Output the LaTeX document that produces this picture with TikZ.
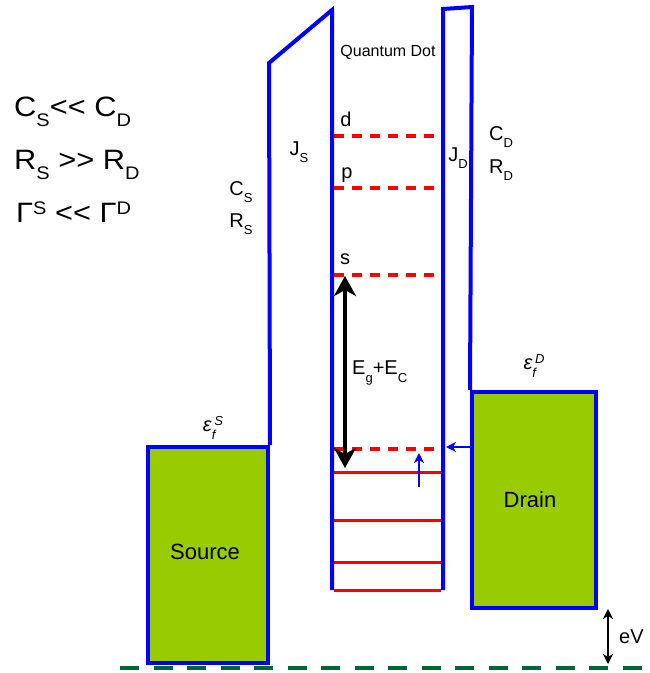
\documentclass[tikz,border=0pt]{standalone}
\usepackage{fontspec}
\usepackage{graphicx}
\setmainfont{Liberation Sans}
\usetikzlibrary{arrows.meta}
\definecolor{wallblue}{RGB}{0,0,255}
\definecolor{lvlred}{RGB}{255,0,0}
\definecolor{metal}{RGB}{153,204,0}
\definecolor{gnd}{RGB}{0,102,51}
\newcommand\lsub[1]{\raisebox{-0.36em}{\scalebox{0.65}{#1}}}
\newcommand\lsup[1]{\raisebox{0.3em}{\scalebox{0.65}{#1}}}
\newcommand\wide[1]{\scalebox{1.1}[1]{#1}}
\tikzset{
  wall/.style={draw=wallblue, line width=4pt, line join=miter},
  metalbox/.style={draw=wallblue, line width=4pt, fill=metal, rectangle, inner sep=0pt},
  emptylvl/.style={draw=lvlred, line width=4pt, dash pattern=on 10pt off 8pt},
  fulllvl/.style={draw=lvlred, line width=3pt},
  lbl/.style={inner sep=0pt, font=\fontsize{20}{24}\selectfont},
  biglbl/.style={inner sep=0pt, anchor=west, font=\fontsize{28}{32}\selectfont},
  gap/.style={draw=black, line width=4pt, {Stealth[length=20pt,width=22pt,inset=6pt]}-{Stealth[length=20pt,width=22pt,inset=6pt]}},
  tun/.style={draw=wallblue, line width=2pt, -{Stealth[length=10pt,width=10pt,inset=3pt]}},
  bias/.style={draw=black, line width=2pt, {Stealth[length=10pt,width=10pt,inset=3pt]}-{Stealth[length=10pt,width=10pt,inset=3pt]}},
}
\begin{document}
\begin{tikzpicture}[x=1pt,y=-1pt]
\useasboundingbox (0,0) rectangle (649,673);
% ground line
\coordinate (g1) at (120,668);
\coordinate (g2) at (645,668);
\draw[gnd, line width=4pt, dash pattern=on 19pt off 14.5pt] (g1) -- (g2);
% source and drain
\node[metalbox, minimum width=120pt, minimum height=216pt] (source) at (208,555) {};
\node[lbl, font=\fontsize{22}{26}\selectfont] (srclbl) at (205,552) {Source};
\node[metalbox, minimum width=124pt, minimum height=216pt] (drain) at (534,500) {};
\node[lbl, font=\fontsize{22}{26}\selectfont] (drnlbl) at (530,500) {Drain};
% barriers
\coordinate (ls1) at (269,63);
\coordinate (ls2) at (332,10);
\coordinate (ls3) at (332,590);
\coordinate (rs1) at (443,590);
\coordinate (rs2) at (443,9);
\coordinate (rs3) at (472,7);
\draw[wall] (source.north east) -- (ls1) -- (ls2) -- (ls3);
\draw[wall] (rs1) -- (rs2) -- (rs3) -- (drain.north west);
% levels
\foreach \y/\n in {136/d,188/p,275/s,449/h}{
  \coordinate (e\n a) at (334,\y);
  \coordinate (e\n b) at (440,\y);
  \draw[emptylvl] (e\n a) -- (e\n b);
}
\foreach \y/\n in {472/1,520/2,562/3,590/4}{
  \coordinate (f\n a) at (334,\y);
  \coordinate (f\n b) at (441,\y);
  \draw[fulllvl] (f\n a) -- (f\n b);
}
% gap arrow
\coordinate (gtop) at (345,276);
\coordinate (gbot) at (345,468);
\draw[gap] (gtop) -- (gbot);
% tunnelling arrows
\coordinate (u1) at (419,487);
\coordinate (u2) at (419,453);
\draw[tun] (u1) -- (u2);
\coordinate (l1) at (470,447);
\coordinate (l2) at (446,447);
\draw[tun] (l1) -- (l2);
% bias arrow
\coordinate (b1) at (608,609);
\coordinate (b2) at (608,664);
\draw[bias] (b1) -- (b2);
\node[lbl, anchor=west] (ev) at (619,637) {eV};
% labels
\node[inner sep=0pt, font=\fontsize{16}{19}\selectfont] (qd) at (388,52) {Quantum Dot};
\node[lbl] (dl) at (346,119) {d};
\node[lbl] (pl) at (347,175) {p};
\node[lbl] (sl) at (345,259) {s};
\node[lbl] (js) at (299,152) {J\lsub{S}};
\node[lbl] (jd) at (458,158) {J\lsub{D}};
\node[lbl] (cs) at (241,192) {C\lsub{S}};
\node[lbl] (rs) at (241,224) {R\lsub{S}};
\node[lbl] (cd) at (501,137) {C\lsub{D}};
\node[lbl] (rd) at (501,170) {R\lsub{D}};
\node[lbl, anchor=west] (eg) at (352,373) {E\lsub{g}+E\lsub{C}};
\node[lbl] (efs) at (213,428) {\itshape ε\lsub{f}\kern-1pt\lsup{S}};
\node[lbl] (efd) at (534,366) {\itshape ε\lsub{f}\kern-1pt\lsup{D}};
% relations
\node[biglbl] (r1) at (14,112) {\wide{C\lsub{S}<{}< C\lsub{D}}};
\node[biglbl] (r2) at (14,165) {\wide{R\lsub{S} >{}> R\lsub{D}}};
\node[biglbl] (r3) at (16,212) {\wide{Γ\lsup{S} <{}< Γ\lsup{D}}};
\end{tikzpicture}
\end{document}
